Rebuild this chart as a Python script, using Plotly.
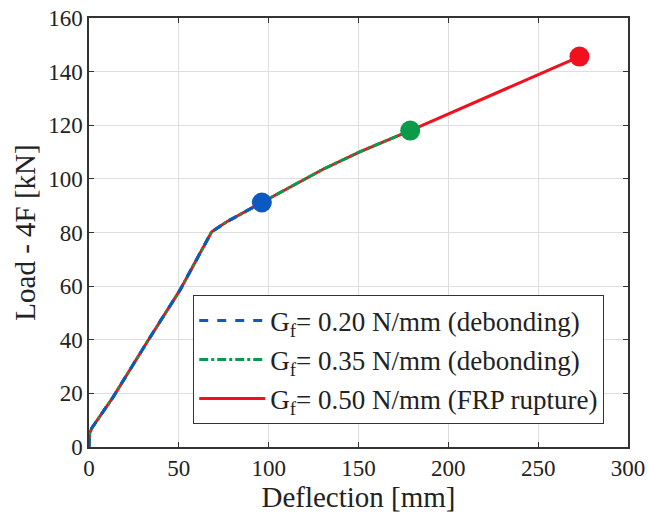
import plotly.graph_objects as go

# Data
defl_020 = [0, 0.3, 1.5, 13.4, 32, 50.7, 68.3, 76.7, 96.2]
load_020 = [0, 5.0, 7.0, 18.6, 38.8, 58.6, 80.3, 84.0, 91.2]

defl_035 = defl_020 + [130, 151, 178.8]
load_035 = load_020 + [103.5, 110.2, 118.0]

defl_050 = defl_035 + [273]
load_050 = load_035 + [145.6]

names = ["G<sub>f</sub>= 0.20 N/mm (debonding)",
         "G<sub>f</sub>= 0.35 N/mm (debonding)",
         "G<sub>f</sub>= 0.50 N/mm (FRP rupture)"]
colors = ["#0a5ac0", "#0a9a48", "#f0101e"]
dashes = ["dash", "dashdot", "solid"]

xs = [defl_020, defl_035, defl_050]
ys = [load_020, load_035, load_050]

fig = go.Figure()
# draw red first, then green, then blue on top
for i in [2, 1, 0]:
    fig.add_trace(go.Scatter(x=xs[i], y=ys[i], mode="lines", name=names[i],
                             line=dict(color=colors[i], width=3, dash=dashes[i]),
                             legendgroup=str(i), legendrank=i + 1))
for i in [2, 1, 0]:
    fig.add_trace(go.Scatter(x=[xs[i][-1]], y=[ys[i][-1]], mode="markers",
                             marker=dict(color=colors[i], size=20),
                             showlegend=False, hoverinfo="skip"))

font = "Liberation Serif, Times New Roman, serif"
axis_common = dict(showline=True, linecolor="#333333", linewidth=1.5, mirror="ticks",
                   ticks="inside", ticklen=5, tickcolor="#333333", automargin=False,
                   showgrid=True, gridcolor="#dedede", gridwidth=1, zeroline=False,
                   tickfont=dict(family=font, size=23, color="#222222"))

fig.update_layout(
    width=648, height=521,
    margin=dict(l=89, r=20, t=18, b=74),
    paper_bgcolor="white", plot_bgcolor="white",
    xaxis=dict(range=[0, 300], tickvals=[0, 50, 100, 150, 200, 250, 300],
               title=dict(text="Deflection [mm]", font=dict(family=font, size=29, color="#222222"), standoff=2),
               **axis_common),
    yaxis=dict(range=[0, 160], tickvals=[0, 20, 40, 60, 80, 100, 120, 140, 160],
               title=dict(text="Load - 4F [kN]", font=dict(family=font, size=29, color="#222222"), standoff=4),
               **axis_common),
    legend=dict(x=0.193, y=0.354, xanchor="left", yanchor="top",
                bordercolor="#333333", borderwidth=1.2, bgcolor="white",
                font=dict(family=font, size=27, color="#222222"),
                itemwidth=66,
                traceorder="grouped", tracegroupgap=1),
    showlegend=True,
)

fig.write_html("out.html")
